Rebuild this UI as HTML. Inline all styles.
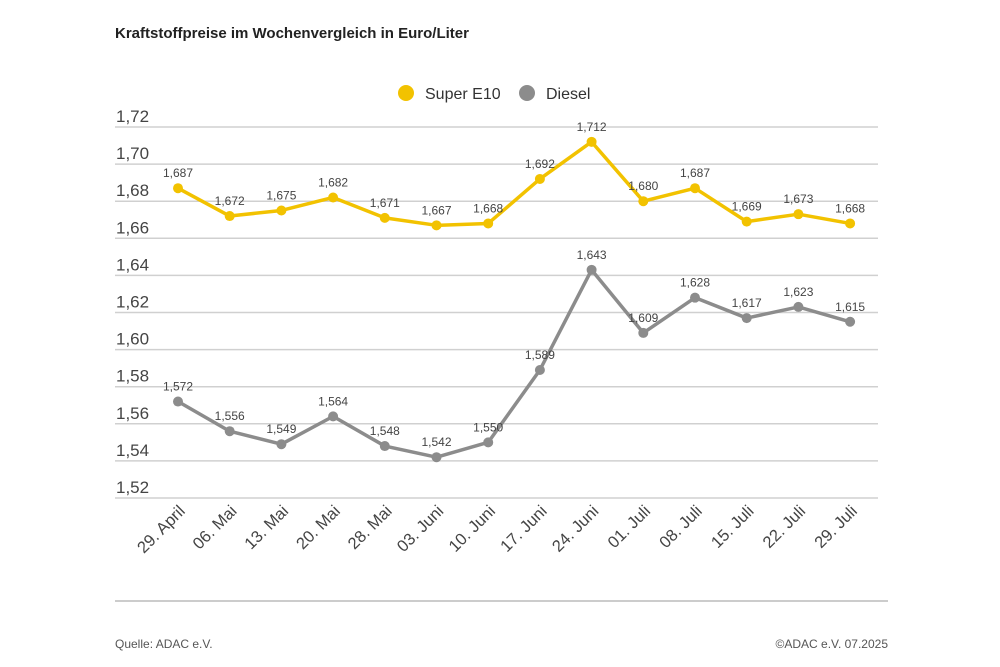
<!DOCTYPE html>
<html><head><meta charset="utf-8"><style>
body{margin:0;background:#fff;}
svg{display:block;font-family:"Liberation Sans",sans-serif;}
</style></head><body>
<svg width="1000" height="667" viewBox="0 0 1000 667" xmlns="http://www.w3.org/2000/svg">
<text x="115" y="38" font-size="15" font-weight="bold" fill="#222">Kraftstoffpreise im Wochenvergleich in Euro/Liter</text>
<circle cx="406" cy="93" r="8" fill="#f2c200"/>
<text x="425" y="99" font-size="16" fill="#333">Super E10</text>
<circle cx="527" cy="93" r="8" fill="#8c8c8c"/>
<text x="546" y="99" font-size="16" fill="#333">Diesel</text>
<g id="grid"></g>
<g id="chart"></g>
<line x1="115" y1="601" x2="888" y2="601" stroke="#ccc" stroke-width="2"/>
<text x="115" y="648" font-size="12" fill="#555">Quelle: ADAC e.V.</text>
<text x="888" y="648" font-size="12" fill="#555" text-anchor="end">©ADAC e.V. 07.2025</text>
</svg>
<script>
const ns="http://www.w3.org/2000/svg";
const g=document.getElementById("grid"),c=document.getElementById("chart");
function el(p,t,a,txt){const e=document.createElementNS(ns,t);for(const k in a)e.setAttribute(k,a[k]);if(txt!=null)e.textContent=txt;p.appendChild(e);return e;}
const Y=v=>127+(1.72-v)/0.2*371, X=i=>178+i*51.7;
for(let k=0;k<=10;k++){const v=1.72-k*0.02,y=Y(v);
el(g,"line",{x1:115,y1:y,x2:878,y2:y,stroke:"#d0d0d0","stroke-width":1.5});
el(g,"text",{x:116,y:y-5,"font-size":17,fill:"#444"},v.toFixed(2).replace(".",","));}
const lab=["29. April","06. Mai","13. Mai","20. Mai","28. Mai","03. Juni","10. Juni","17. Juni","24. Juni","01. Juli","08. Juli","15. Juli","22. Juli","29. Juli"];
lab.forEach((l,i)=>{const x=X(i)+8,y=512;el(g,"text",{x:x,y:y,"font-size":16.5,fill:"#444","text-anchor":"end",transform:`rotate(-45 ${x} ${y})`},l);});
const e10=[1.687,1.672,1.675,1.682,1.671,1.667,1.668,1.692,1.712,1.680,1.687,1.669,1.673,1.668];
const di=[1.572,1.556,1.549,1.564,1.548,1.542,1.550,1.589,1.643,1.609,1.628,1.617,1.623,1.615];
function series(d,col){
el(c,"polyline",{points:d.map((v,i)=>X(i)+","+Y(v)).join(" "),fill:"none",stroke:col,"stroke-width":3.5,"stroke-linejoin":"round"});
d.forEach((v,i)=>{el(c,"circle",{cx:X(i),cy:Y(v),r:5,fill:col});
el(c,"text",{x:X(i),y:Y(v)-11,"font-size":12,fill:"#444","text-anchor":"middle"},v.toFixed(3).replace(".",","));});}
series(e10,"#f2c200");series(di,"#8c8c8c");
</script>
</body></html>
